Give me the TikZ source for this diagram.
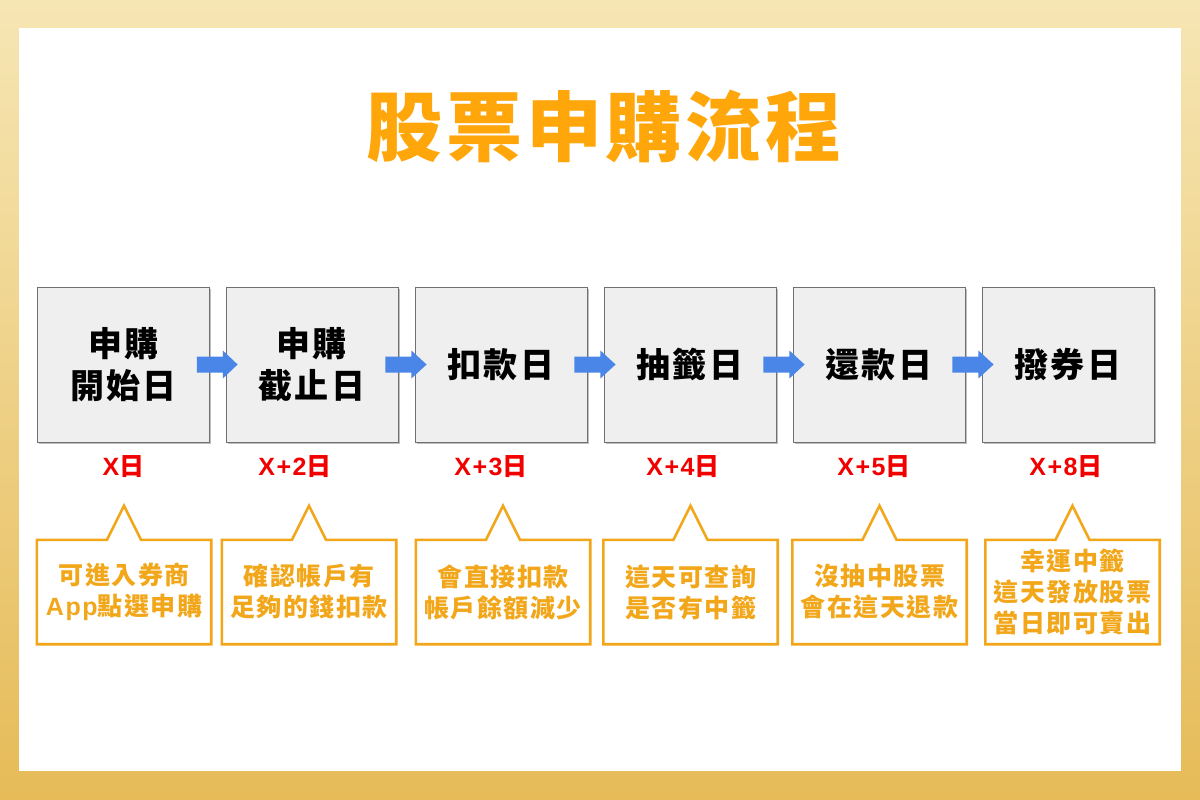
\documentclass[tikz,border=0pt]{standalone}
\usepackage{fontspec}
\usetikzlibrary{calc,shadows}
\newfontfamily\cjk{Noto Sans CJK TC}[UprightFont=* Black, LetterSpace=6]
\newfontfamily\cjktitle{Noto Sans CJK TC}[UprightFont=* Black, LetterSpace=5]
\newfontfamily\lat{Liberation Sans}[UprightFont=* Bold, LetterSpace=6]
\definecolor{titleorange}{HTML}{FFA60A}
\definecolor{calloutorange}{HTML}{F2A71B}
\definecolor{boxfill}{HTML}{EFEFEF}
\definecolor{boxline}{HTML}{707070}
\definecolor{arrowblue}{HTML}{4A86E8}
\definecolor{labelred}{HTML}{F20000}
\definecolor{frametop}{HTML}{F6E6B4}
\definecolor{framebot}{HTML}{E6BB58}
\tikzset{
  stepbox/.style={draw=boxline, line width=0.8pt, fill=boxfill, minimum width=172pt, minimum height=155pt,
    inner sep=0pt, align=center, font=\cjk\fontsize{34}{42}\selectfont,
    drop shadow={shadow xshift=1.5pt, shadow yshift=-1.5pt, fill=black, opacity=0.25}},
  daylabel/.style={text=labelred, font=\cjk\fontsize{25}{28}\selectfont, inner sep=0pt},
  notebox/.style={minimum width=174pt, minimum height=104pt, inner sep=0pt, align=center,
    text=calloutorange, font=\cjk\fontsize{25}{31}\selectfont},
  noteline/.style={draw=calloutorange, line width=2.6pt, line join=miter, fill=white},
  flowarrow/.style={fill=arrowblue},
}
\newcommand\stepflow[2]{%
  \fill[flowarrow] ($(#1.east)+(-13,-8)$) -- ($(#1.east)+(13,-8)$) -- ($(#1.east)+(13,-14)$)
    -- ($(#2.west)+(12,0)$) -- ($(#1.east)+(13,14)$) -- ($(#1.east)+(13,8)$) -- ($(#1.east)+(-13,8)$) -- cycle;}
\newcommand\noteoutline[1]{%
  \draw[noteline] (#1.north west) -- ($(#1.north)+(-17,0)$) -- ($(#1.north)+(0,-34)$) -- ($(#1.north)+(17,0)$)
    -- (#1.north east) -- (#1.south east) -- (#1.south west) -- cycle;}
\begin{document}
\begin{tikzpicture}[x=1pt, y=-1pt]
\useasboundingbox (0,0) rectangle (1200,800);
\shade[top color=frametop, bottom color=framebot] (0,0) rectangle (1200,800);
\fill[white] (19,28) rectangle (1181,771);

\node[text=titleorange, font=\cjktitle\fontsize{76}{80}\selectfont, inner sep=0pt] (title) at (604,126) {股票申購流程};

% steps
\node[stepbox] (s1) at (123.5,364.5) {申購\\開始日};
\node[stepbox] (s2) at (312,364.5) {申購\\截止日};
\node[stepbox] (s3) at (501,364.5) {扣款日};
\node[stepbox] (s4) at (690,364.5) {抽籤日};
\node[stepbox] (s5) at (879,364.5) {還款日};
\node[stepbox] (s6) at (1068,364.5) {撥券日};

\stepflow{s1}{s2}
\stepflow{s2}{s3}
\stepflow{s3}{s4}
\stepflow{s4}{s5}
\stepflow{s5}{s6}

% day labels
\node[daylabel] (d1) at (123.5,467) {{\lat X}日};
\node[daylabel] (d2) at (295,467) {{\lat X+2}日};
\node[daylabel] (d3) at (491,467) {{\lat X+3}日};
\node[daylabel] (d4) at (683,467) {{\lat X+4}日};
\node[daylabel] (d5) at (874,467) {{\lat X+5}日};
\node[daylabel] (d6) at (1066,467) {{\lat X+8}日};

% callouts
\node[notebox] (n1) at (124,592) {};
\node[notebox] (n2) at (309,592) {};
\node[notebox] (n3) at (503,592) {};
\node[notebox] (n4) at (690.5,592) {};
\node[notebox] (n5) at (879.5,592) {};
\node[notebox] (n6) at (1072.5,592) {};
\noteoutline{n1}
\noteoutline{n2}
\noteoutline{n3}
\noteoutline{n4}
\noteoutline{n5}
\noteoutline{n6}
\node[notebox] (t1) at (n1) {可進入券商\\{\lat App}點選申購};
\node[notebox] (t2) at (n2) {確認帳戶有\\足夠的錢扣款};
\node[notebox] (t3) at (n3) {會直接扣款\\帳戶餘額減少};
\node[notebox] (t4) at (n4) {這天可查詢\\是否有中籤};
\node[notebox] (t5) at (n5) {沒抽中股票\\會在這天退款};
\node[notebox] (t6) at (n6) {幸運中籤\\這天發放股票\\當日即可賣出};
\end{tikzpicture}
\end{document}
